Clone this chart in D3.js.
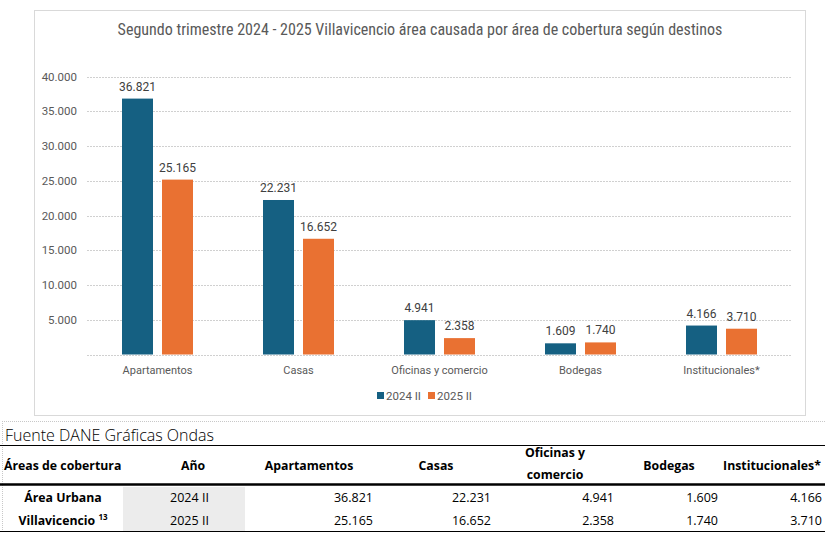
<!DOCTYPE html>
<html><head><meta charset="utf-8">
<script src="https://cdn.jsdelivr.net/npm/d3@7"></script>
<style>
body{margin:0;background:#fff;}
svg{display:block;}
</style></head>
<body>
<svg id="c" width="825" height="533"></svg>
<script>
const title = "Segundo trimestre 2024 - 2025 Villavicencio área causada por área de cobertura según destinos";
const categories = ["Apartamentos","Casas","Oficinas y comercio","Bodegas","Institucionales*"];
const series = ["2024 II","2025 II"];
const values2024 = [36821,22231,4941,1609,4166];
const values2025 = [25165,16652,2358,1740,3710];
const yTicks = [5000,10000,15000,20000,25000,30000,35000,40000];
const tableTitle = "Fuente DANE Gráficas Ondas";
const tableHeaders = ["Áreas de cobertura","Año","Apartamentos","Casas","Oficinas y comercio","Bodegas","Institucionales*"];
const areaLabel = ["Área Urbana","Villavicencio"];
const colors = ["#156082","#E97132"];

const fmt = v => d3.format(",")(v).replace(/,/g,".");
const svg = d3.select("#c");

// chart frame
svg.append("rect").attr("x",34.5).attr("y",10.5).attr("width",771).attr("height",405)
  .attr("fill","#fff").attr("stroke","#d9d9d9").attr("stroke-width",1);

svg.append("text").attr("x",420).attr("y",35).attr("text-anchor","middle")
  .attr("font-family","'Liberation Sans Narrow','Roboto Condensed',Roboto,sans-serif")
  .attr("font-size",16).attr("fill","#595959").text(title);

const plotL = 87, plotR = 792;
const y = d3.scaleLinear().domain([0,40000]).range([354.5,76.5]);
const x0 = d3.scaleBand().domain(categories).range([plotL,plotR]).padding(0);
const x1 = d3.scaleBand().domain(series).range([x0.bandwidth()/2-35.5, x0.bandwidth()/2+35.5]).paddingInner(0.225);

// gridlines
svg.append("g").selectAll("line").data([0].concat(yTicks)).join("line")
  .attr("x1",plotL).attr("x2",plotR)
  .attr("y1",d=>Math.round(y(d))+0.5).attr("y2",d=>Math.round(y(d))+0.5)
  .attr("stroke","#d0d0d0").attr("stroke-width",1).attr("stroke-dasharray","2,1");

// y axis labels
const yAxis = d3.axisLeft(y).tickValues(yTicks).tickFormat(fmt).tickSize(0).tickPadding(0);
const ga = svg.append("g").attr("transform","translate(77,0)").call(yAxis);
ga.select(".domain").remove();
ga.selectAll("text").attr("font-family","Roboto,sans-serif").attr("font-size",11.5).attr("fill","#595959");

// bars
const data = categories.map((c,i)=>({cat:c, vals:[values2024[i],values2025[i]]}));
const g = svg.append("g");
const grp = g.selectAll("g").data(data).join("g").attr("transform",d=>`translate(${x0(d.cat)},0)`);
grp.selectAll("rect").data(d=>d.vals.map((v,j)=>({s:series[j],v,j}))).join("rect")
  .attr("x",d=>x1(d.s)).attr("width",x1.bandwidth())
  .attr("y",d=>y(d.v)).attr("height",d=>y(0)-y(d.v))
  .attr("fill",d=>colors[d.j]);
grp.selectAll("text").data(d=>d.vals.map((v,j)=>({s:series[j],v,j}))).join("text")
  .attr("x",d=>x1(d.s)+x1.bandwidth()/2).attr("y",d=>y(d.v)-8)
  .attr("text-anchor","middle").attr("font-family","Roboto,sans-serif").attr("font-size",12)
  .attr("fill","#404040").text(d=>fmt(d.v));

// x axis labels
const xAxis = d3.axisBottom(x0).tickSize(0).tickPadding(0);
const gx = svg.append("g").attr("transform","translate(0,374)").call(xAxis);
gx.select(".domain").remove();
gx.selectAll("text").attr("font-family","Roboto,sans-serif").attr("font-size",11).attr("fill","#595959").attr("dy","0");

// legend
const lg = svg.append("g").selectAll("g").data(series).join("g")
  .attr("transform",(d,i)=>`translate(${377+i*51},0)`);
lg.append("rect").attr("x",0).attr("y",392).attr("width",7).attr("height",7).attr("fill",(d,i)=>colors[i]);
lg.append("text").attr("x",9).attr("y",400).attr("font-family","Roboto,sans-serif").attr("font-size",11.5)
  .attr("fill","#595959").text(d=>d);

// ---- table ----
svg.append("line").attr("x1",2.5).attr("x2",2.5).attr("y1",421).attr("y2",533).attr("stroke","#c8c8c8").attr("stroke-dasharray","1,1");
svg.append("line").attr("x1",2).attr("x2",825).attr("y1",421.5).attr("y2",421.5).attr("stroke","#c8c8c8").attr("stroke-dasharray","1,1");
svg.append("text").attr("x",5).attr("y",441).attr("font-family","'Open Sans',sans-serif").attr("font-weight",300)
  .attr("font-size",16).attr("fill","#000").text(tableTitle);
svg.append("line").attr("x1",0).attr("x2",825).attr("y1",445.5).attr("y2",445.5).attr("stroke","#000").attr("stroke-width",1);
svg.append("line").attr("x1",0).attr("x2",825).attr("y1",484.5).attr("y2",484.5).attr("stroke","#000").attr("stroke-width",2.5);
svg.append("line").attr("x1",0).attr("x2",825).attr("y1",531.5).attr("y2",531.5).attr("stroke","#000").attr("stroke-width",1);
svg.append("rect").attr("x",123).attr("y",487).attr("width",122).attr("height",44).attr("fill","#ececec");

const hdrFont = "'Open Sans',sans-serif";
const headerPos = [{x:4,a:"start"},{x:193,a:"middle"},{x:309,a:"middle"},{x:436,a:"middle"},{x:555,a:"middle"},{x:669,a:"middle"},{x:772,a:"middle"}];
tableHeaders.forEach((h,i)=>{
  const t = svg.append("text").attr("x",headerPos[i].x).attr("text-anchor",headerPos[i].a)
    .attr("font-family",hdrFont).attr("font-weight",700).attr("font-size",12.3).attr("fill","#000");
  if(h==="Oficinas y comercio"){
    t.append("tspan").attr("x",headerPos[i].x).attr("y",457).text("Oficinas y");
    t.append("tspan").attr("x",headerPos[i].x).attr("y",479).text("comercio");
  } else t.attr("y",470).text(h);
});
// area label
svg.append("text").attr("x",63).attr("y",502).attr("text-anchor","middle").attr("font-family",hdrFont)
  .attr("font-weight",700).attr("font-size",12.3).text(areaLabel[0]);
const al = svg.append("text").attr("x",63).attr("y",525).attr("text-anchor","middle").attr("font-family",hdrFont)
  .attr("font-weight",700).attr("font-size",12.3);
al.append("tspan").text(areaLabel[1]+" ");
al.append("tspan").attr("font-size",8).attr("dy",-5).text("13");

const rowsY = [502,525];
const valRight = [373,491,614,718,822];
[values2024,values2025].forEach((vals,r)=>{
  svg.append("text").attr("x",189.5).attr("y",rowsY[r]).attr("text-anchor","middle").attr("font-family",hdrFont)
    .attr("font-size",12.5).text(series[r]);
  vals.forEach((v,i)=>{
    svg.append("text").attr("x",valRight[i]).attr("y",rowsY[r]).attr("text-anchor","end").attr("font-family",hdrFont)
      .attr("font-size",12.5).text(fmt(v));
  });
});
</script>
</body></html>
